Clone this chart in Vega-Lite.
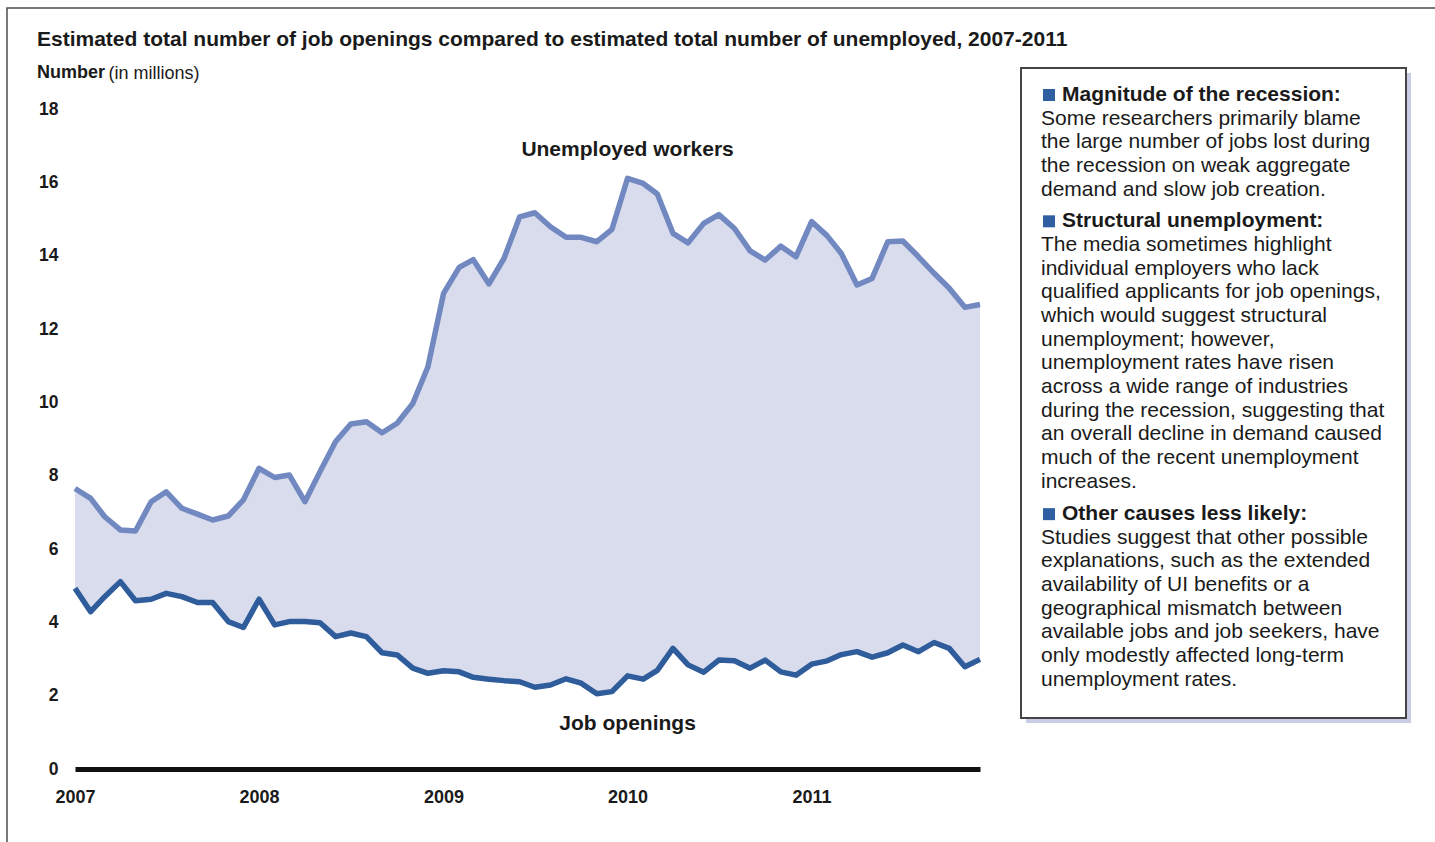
{
  "$schema": "https://vega.github.io/schema/vega-lite/v6.json",
  "width": 905,
  "height": 660,
  "autosize": {"type": "none"},
  "padding": {"left": 75, "top": 109, "right": 455, "bottom": 73},
  "background": "white",
  "config": {"view": {"stroke": null}, "font": "Liberation Sans"},
  "title": {
    "text": "Estimated total number of job openings compared to estimated total number of unemployed, 2007-2011",
    "subtitle": "Number",
    "anchor": "start",
    "frame": "group",
    "font": "Liberation Sans",
    "fontSize": 21,
    "fontWeight": "bold",
    "color": "#1a1a1a",
    "subtitleFont": "Liberation Sans",
    "subtitleFontSize": 18,
    "subtitleFontWeight": "bold",
    "subtitleColor": "#1a1a1a",
    "subtitlePadding": 14,
    "dx": -38,
    "dy": 75,
    "offset": 0
  },
  "datasets": {
    "series": [
      {"month": "2007-01-01", "unemployed": 7.65, "openings": 4.93},
      {"month": "2007-02-01", "unemployed": 7.38, "openings": 4.29},
      {"month": "2007-03-01", "unemployed": 6.88, "openings": 4.70},
      {"month": "2007-04-01", "unemployed": 6.52, "openings": 5.11},
      {"month": "2007-05-01", "unemployed": 6.49, "openings": 4.59},
      {"month": "2007-06-01", "unemployed": 7.29, "openings": 4.63},
      {"month": "2007-07-01", "unemployed": 7.56, "openings": 4.79},
      {"month": "2007-08-01", "unemployed": 7.11, "openings": 4.70},
      {"month": "2007-09-01", "unemployed": 6.95, "openings": 4.54},
      {"month": "2007-10-01", "unemployed": 6.79, "openings": 4.54},
      {"month": "2007-11-01", "unemployed": 6.90, "openings": 4.02},
      {"month": "2007-12-01", "unemployed": 7.34, "openings": 3.86},
      {"month": "2008-01-01", "unemployed": 8.20, "openings": 4.63},
      {"month": "2008-02-01", "unemployed": 7.95, "openings": 3.93},
      {"month": "2008-03-01", "unemployed": 8.02, "openings": 4.02},
      {"month": "2008-04-01", "unemployed": 7.29, "openings": 4.02},
      {"month": "2008-05-01", "unemployed": 8.11, "openings": 3.99},
      {"month": "2008-06-01", "unemployed": 8.93, "openings": 3.61},
      {"month": "2008-07-01", "unemployed": 9.41, "openings": 3.71},
      {"month": "2008-08-01", "unemployed": 9.47, "openings": 3.61},
      {"month": "2008-09-01", "unemployed": 9.17, "openings": 3.17},
      {"month": "2008-10-01", "unemployed": 9.43, "openings": 3.11},
      {"month": "2008-11-01", "unemployed": 9.97, "openings": 2.75},
      {"month": "2008-12-01", "unemployed": 10.97, "openings": 2.61},
      {"month": "2009-01-01", "unemployed": 12.97, "openings": 2.68},
      {"month": "2009-02-01", "unemployed": 13.68, "openings": 2.65},
      {"month": "2009-03-01", "unemployed": 13.89, "openings": 2.50},
      {"month": "2009-04-01", "unemployed": 13.23, "openings": 2.45},
      {"month": "2009-05-01", "unemployed": 13.93, "openings": 2.41},
      {"month": "2009-06-01", "unemployed": 15.06, "openings": 2.38},
      {"month": "2009-07-01", "unemployed": 15.17, "openings": 2.23},
      {"month": "2009-08-01", "unemployed": 14.79, "openings": 2.29},
      {"month": "2009-09-01", "unemployed": 14.50, "openings": 2.46},
      {"month": "2009-10-01", "unemployed": 14.50, "openings": 2.34},
      {"month": "2009-11-01", "unemployed": 14.38, "openings": 2.05},
      {"month": "2009-12-01", "unemployed": 14.72, "openings": 2.11},
      {"month": "2010-01-01", "unemployed": 16.11, "openings": 2.54},
      {"month": "2010-02-01", "unemployed": 15.97, "openings": 2.45},
      {"month": "2010-03-01", "unemployed": 15.68, "openings": 2.69},
      {"month": "2010-04-01", "unemployed": 14.61, "openings": 3.29},
      {"month": "2010-05-01", "unemployed": 14.35, "openings": 2.84},
      {"month": "2010-06-01", "unemployed": 14.88, "openings": 2.64},
      {"month": "2010-07-01", "unemployed": 15.12, "openings": 2.97},
      {"month": "2010-08-01", "unemployed": 14.74, "openings": 2.95},
      {"month": "2010-09-01", "unemployed": 14.13, "openings": 2.75},
      {"month": "2010-10-01", "unemployed": 13.88, "openings": 2.97},
      {"month": "2010-11-01", "unemployed": 14.26, "openings": 2.65},
      {"month": "2010-12-01", "unemployed": 13.97, "openings": 2.56},
      {"month": "2011-01-01", "unemployed": 14.93, "openings": 2.86},
      {"month": "2011-02-01", "unemployed": 14.54, "openings": 2.95},
      {"month": "2011-03-01", "unemployed": 14.06, "openings": 3.12},
      {"month": "2011-04-01", "unemployed": 13.20, "openings": 3.20},
      {"month": "2011-05-01", "unemployed": 13.38, "openings": 3.05},
      {"month": "2011-06-01", "unemployed": 14.38, "openings": 3.17},
      {"month": "2011-07-01", "unemployed": 14.40, "openings": 3.38},
      {"month": "2011-08-01", "unemployed": 13.97, "openings": 3.20},
      {"month": "2011-09-01", "unemployed": 13.52, "openings": 3.45},
      {"month": "2011-10-01", "unemployed": 13.11, "openings": 3.29},
      {"month": "2011-11-01", "unemployed": 12.59, "openings": 2.79},
      {"month": "2011-12-01", "unemployed": 12.67, "openings": 2.99}
    ],
    "labels": [
      {"month": "2010-01-01", "value": 16.88, "label": "Unemployed workers"},
      {"month": "2010-01-01", "value": 1.23, "label": "Job openings"}
    ],
    "box": [{"name": "notes"}],
    "notes": [
      {"row": 0, "kind": "head", "text": "Magnitude of the recession:"},
      {"row": 1, "kind": "body", "text": "Some researchers primarily blame"},
      {"row": 2, "kind": "body", "text": "the large number of jobs lost during"},
      {"row": 3, "kind": "body", "text": "the recession on weak aggregate"},
      {"row": 4, "kind": "body", "text": "demand and slow job creation."},
      {"row": 5.34, "kind": "head", "text": "Structural unemployment:"},
      {"row": 6.34, "kind": "body", "text": "The media sometimes highlight"},
      {"row": 7.34, "kind": "body", "text": "individual employers who lack"},
      {"row": 8.34, "kind": "body", "text": "qualified applicants for job openings,"},
      {"row": 9.34, "kind": "body", "text": "which would suggest structural"},
      {"row": 10.34, "kind": "body", "text": "unemployment; however,"},
      {"row": 11.34, "kind": "body", "text": "unemployment rates have risen"},
      {"row": 12.34, "kind": "body", "text": "across a wide range of industries"},
      {"row": 13.34, "kind": "body", "text": "during the recession, suggesting that"},
      {"row": 14.34, "kind": "body", "text": "an overall decline in demand caused"},
      {"row": 15.34, "kind": "body", "text": "much of the recent unemployment"},
      {"row": 16.34, "kind": "body", "text": "increases."},
      {"row": 17.72, "kind": "head", "text": "Other causes less likely:"},
      {"row": 18.72, "kind": "body", "text": "Studies suggest that other possible"},
      {"row": 19.72, "kind": "body", "text": "explanations, such as the extended"},
      {"row": 20.72, "kind": "body", "text": "availability of UI benefits or a"},
      {"row": 21.72, "kind": "body", "text": "geographical mismatch between"},
      {"row": 22.72, "kind": "body", "text": "available jobs and job seekers, have"},
      {"row": 23.72, "kind": "body", "text": "only modestly affected long-term"},
      {"row": 24.72, "kind": "body", "text": "unemployment rates."}
    ]
  },
  "layer": [
    {
      "layer": [
        {
          "data": {"name": "series"},
          "mark": {"type": "area", "color": "#d9dcec", "opacity": 1},
          "encoding": {
            "x": {
              "field": "month", "type": "temporal",
              "scale": {"type": "utc", "domain": [{"year": 2007, "month": 1, "date": 1, "utc": true}, {"year": 2011, "month": 12, "date": 1, "utc": true}]},
              "axis": {
                "format": "%Y", "tickCount": {"interval": "year", "step": 1}, "labelFlush": false,
                "ticks": false, "tickSize": 0, "grid": false,
                "domainColor": "#111111", "domainWidth": 5, "domainCap": "butt",
                "labelFont": "Liberation Sans", "labelFontSize": 18, "labelFontWeight": "bold", "labelColor": "#1a1a1a",
                "labelPadding": 19, "labelAngle": 0, "title": null
              }
            },
            "y": {
              "field": "unemployed", "type": "quantitative",
              "scale": {"domain": [0, 18], "nice": false},
              "axis": {
                "values": [0, 2, 4, 6, 8, 10, 12, 14, 16, 18],
                "ticks": false, "tickSize": 0, "domain": false, "grid": false,
                "labelFont": "Liberation Sans", "labelFontSize": 17.5, "labelFontWeight": "bold", "labelColor": "#1a1a1a",
                "labelPadding": 17,
                "title": "(in millions)", "titleFont": "Liberation Sans", "titleFontSize": 18, "titleFontWeight": "normal",
                "titleColor": "#1a1a1a", "titleAngle": 0, "titleAlign": "left", "titleBaseline": "middle",
                "titleX": 33, "titleY": -36
              }
            },
            "y2": {"field": "openings"}
          }
        },
        {
          "data": {"name": "series"},
          "mark": {"type": "line", "color": "#7189c0", "strokeWidth": 5.5, "strokeJoin": "round", "strokeCap": "butt"},
          "encoding": {
            "x": {"field": "month", "type": "temporal", "scale": {"type": "utc", "domain": [{"year": 2007, "month": 1, "date": 1, "utc": true}, {"year": 2011, "month": 12, "date": 1, "utc": true}]}},
            "y": {"field": "unemployed", "type": "quantitative", "scale": {"domain": [0, 18], "nice": false}}
          }
        },
        {
          "data": {"name": "series"},
          "mark": {"type": "line", "color": "#2f5c9b", "strokeWidth": 5.5, "strokeJoin": "round", "strokeCap": "butt"},
          "encoding": {
            "x": {"field": "month", "type": "temporal", "scale": {"type": "utc", "domain": [{"year": 2007, "month": 1, "date": 1, "utc": true}, {"year": 2011, "month": 12, "date": 1, "utc": true}]}},
            "y": {"field": "openings", "type": "quantitative", "scale": {"domain": [0, 18], "nice": false}}
          }
        },
        {
          "data": {"name": "labels"},
          "mark": {"type": "text", "font": "Liberation Sans", "fontSize": 21, "fontWeight": "bold", "align": "center", "baseline": "middle", "color": "#1a1a1a"},
          "encoding": {
            "x": {"field": "month", "type": "temporal", "scale": {"type": "utc", "domain": [{"year": 2007, "month": 1, "date": 1, "utc": true}, {"year": 2011, "month": 12, "date": 1, "utc": true}]}},
            "y": {"field": "value", "type": "quantitative", "scale": {"domain": [0, 18], "nice": false}},
            "text": {"field": "label"}
          }
        }
      ]
    },
    {
      "layer": [
        {
          "data": {"name": "box"},
          "mark": {"type": "rect", "fill": null, "fillOpacity": 0, "stroke": "#4d4d4d", "strokeWidth": 1.5},
          "encoding": {
            "x": {"datum": -2.63377, "type": "quantitative", "scale": {"domain": [0, 1], "range": [946, 1331], "nice": false, "zero": false}, "axis": null},
            "x2": {"datum": 2},
            "y": {"datum": -3.678, "type": "quantitative", "scale": {"domain": [-1.1416, 26.3382], "range": [-41, 609], "nice": false, "zero": false}, "axis": null},
            "y2": {"datum": 40}
          }
        },
        {
          "data": {"name": "box"},
          "mark": {"type": "rect", "fill": "#c9cde6", "xOffset": 5, "x2Offset": 5, "yOffset": 5, "y2Offset": 5},
          "encoding": {
            "x": {"datum": 0, "type": "quantitative", "scale": {"domain": [0, 1], "range": [946, 1331], "nice": false, "zero": false}, "axis": null},
            "x2": {"datum": 1},
            "y": {"datum": -1.1416, "type": "quantitative", "scale": {"domain": [-1.1416, 26.3382], "range": [-41, 609], "nice": false, "zero": false}, "axis": null},
            "y2": {"datum": 26.3382}
          }
        },
        {
          "data": {"name": "box"},
          "mark": {"type": "rect", "fill": "white", "stroke": "#454545", "strokeWidth": 2},
          "encoding": {
            "x": {"datum": 0, "type": "quantitative", "scale": {"domain": [0, 1], "range": [946, 1331], "nice": false, "zero": false}, "axis": null},
            "x2": {"datum": 1},
            "y": {"datum": -1.1416, "type": "quantitative", "scale": {"domain": [-1.1416, 26.3382], "range": [-41, 609], "nice": false, "zero": false}, "axis": null},
            "y2": {"datum": 26.3382}
          }
        },
        {
          "data": {"name": "notes"},
          "transform": [{"filter": "datum.kind === 'head'"}],
          "mark": {"type": "square", "size": 144, "color": "#2e5fa3", "filled": true, "opacity": 1, "xOffset": 28},
          "encoding": {
            "x": {"datum": 0, "type": "quantitative", "scale": {"domain": [0, 1], "range": [946, 1331], "nice": false, "zero": false}, "axis": null},
            "y": {"field": "row", "type": "quantitative", "scale": {"domain": [-1.1416, 26.3382], "range": [-41, 609], "nice": false, "zero": false}, "axis": null}
          }
        },
        {
          "data": {"name": "notes"},
          "transform": [{"filter": "datum.kind === 'head'"}],
          "mark": {"type": "text", "font": "Liberation Sans", "fontSize": 21, "fontWeight": "bold", "align": "left", "baseline": "middle", "dx": 41, "color": "#1a1a1a"},
          "encoding": {
            "x": {"datum": 0, "type": "quantitative", "scale": {"domain": [0, 1], "range": [946, 1331], "nice": false, "zero": false}, "axis": null},
            "y": {"field": "row", "type": "quantitative", "scale": {"domain": [-1.1416, 26.3382], "range": [-41, 609], "nice": false, "zero": false}, "axis": null},
            "text": {"field": "text"}
          }
        },
        {
          "data": {"name": "notes"},
          "transform": [{"filter": "datum.kind === 'body'"}],
          "mark": {"type": "text", "font": "Liberation Sans", "fontSize": 21, "fontWeight": "normal", "align": "left", "baseline": "middle", "dx": 20, "color": "#1a1a1a"},
          "encoding": {
            "x": {"datum": 0, "type": "quantitative", "scale": {"domain": [0, 1], "range": [946, 1331], "nice": false, "zero": false}, "axis": null},
            "y": {"field": "row", "type": "quantitative", "scale": {"domain": [-1.1416, 26.3382], "range": [-41, 609], "nice": false, "zero": false}, "axis": null},
            "text": {"field": "text"}
          }
        }
      ]
    }
  ],
  "resolve": {"scale": {"x": "independent", "y": "independent"}}
}
